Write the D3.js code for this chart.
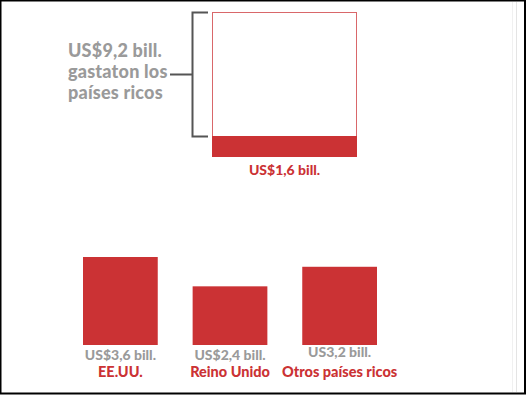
<!DOCTYPE html>
<html>
<head>
<meta charset="utf-8">
<script src="https://cdn.jsdelivr.net/npm/d3@7/dist/d3.min.js"></script>
<style>
  body { margin: 0; background: #fff; }
  svg { display: block; font-family: Lato, "Open Sans", sans-serif; font-weight: 900; }
</style>
</head>
<body>
<svg id="chart" width="526" height="395"></svg>
<script>
// top box: total spent by rich countries vs the red part
const totalValue = 9.2;
const partValue = 1.6;
const totalLabel = ['US$9,2 bill.', 'gastaton los', 'países ricos'];
const partLabel = 'US$1,6 bill.';

// bottom bars
const countries = ['EE.UU.', 'Reino Unido', 'Otros países ricos'];
const amounts = [3.6, 2.4, 3.2];
const amountLabels = ['US$3,6 bill.', 'US$2,4 bill.', 'US3,2 bill.'];

const red = '#cb3234';
const grey = '#9a9a9a';

let svg = d3.select('#chart');

// frame
svg.append('rect')
  .attr('x', 0.5).attr('y', 0.5)
  .attr('width', 524.5).attr('height', 393)
  .attr('fill', 'none').attr('stroke', '#000').attr('stroke-width', 2);
svg.append('line')
  .attr('x1', 512.5).attr('x2', 512.5).attr('y1', 2).attr('y2', 392)
  .attr('stroke', '#f0f0f0');
svg.append('line')
  .attr('x1', 516.5).attr('x2', 516.5).attr('y1', 2).attr('y2', 392)
  .attr('stroke', '#e4e4e4');

// ---- top box ----
let boxLeft = 212, boxRight = 357, boxBottom = 157;
let yTop = d3.scaleLinear()
  .domain([partValue, totalValue])
  .range([boxBottom - 21, 12]);
let boxTop = yTop(totalValue);

svg.append('rect')
  .attr('x', boxLeft + 0.5).attr('y', boxTop + 0.5)
  .attr('width', boxRight - boxLeft - 1).attr('height', boxBottom - boxTop - 1)
  .attr('fill', '#fff').attr('stroke', '#d9676a').attr('stroke-width', 1);

svg.append('rect')
  .attr('x', boxLeft).attr('y', yTop(partValue))
  .attr('width', boxRight - boxLeft).attr('height', boxBottom - yTop(partValue))
  .attr('fill', red);

// bracket
let bx = 192.5;
let bracketTop = boxTop + 0.5, bracketBottom = yTop(partValue) + 0.5;
let bracketMid = (bracketTop + bracketBottom) / 2;
svg.append('path')
  .attr('d', `M208,${bracketTop}H${bx}V${bracketBottom}H208M${bx},${bracketMid}H170`)
  .attr('fill', 'none').attr('stroke', '#555').attr('stroke-width', 2);

svg.append('text')
  .attr('x', 68).attr('y', 57)
  .attr('fill', grey).style('font-size', '18px')
  .style('letter-spacing', '0.2px')
  .selectAll('tspan')
  .data(totalLabel)
  .join('tspan')
    .attr('x', 68)
    .attr('dy', (d, i) => i ? 21 : 0)
    .text(d => d);

svg.append('text')
  .attr('x', (boxLeft + boxRight) / 2).attr('y', 175)
  .attr('text-anchor', 'middle')
  .attr('fill', red).style('font-size', '14px')
  .text(partLabel);

// ---- bottom bars ----
let baseline = 345;
let x = d3.scaleBand()
  .domain(countries)
  .range([83, 377])
  .paddingInner(35 / 110)
  .paddingOuter(0);

let y = d3.scaleLinear()
  .domain([0, 3.6])
  .range([baseline, 257]);

svg.selectAll('.bar')
  .data(amounts)
  .join('rect')
    .attr('class', 'bar')
    .attr('x', (d, i) => x(countries[i]))
    .attr('y', d => y(d))
    .attr('width', x.bandwidth())
    .attr('height', d => baseline - y(d))
    .attr('fill', red);

svg.selectAll('.amount')
  .data(amountLabels)
  .join('text')
    .attr('class', 'amount')
    .attr('x', (d, i) => x(countries[i]) + x.bandwidth() / 2)
    .attr('y', (d, i) => i === 2 ? 357 : 360)
    .attr('text-anchor', 'middle')
    .attr('fill', grey).style('font-size', '14px')
    .text(d => d);

svg.selectAll('.country')
  .data(countries)
  .join('text')
    .attr('class', 'country')
    .attr('x', d => x(d) + x.bandwidth() / 2)
    .attr('y', 377)
    .attr('text-anchor', 'middle')
    .attr('fill', red).style('font-size', '14.5px')
    .text(d => d);
</script>
</body>
</html>
